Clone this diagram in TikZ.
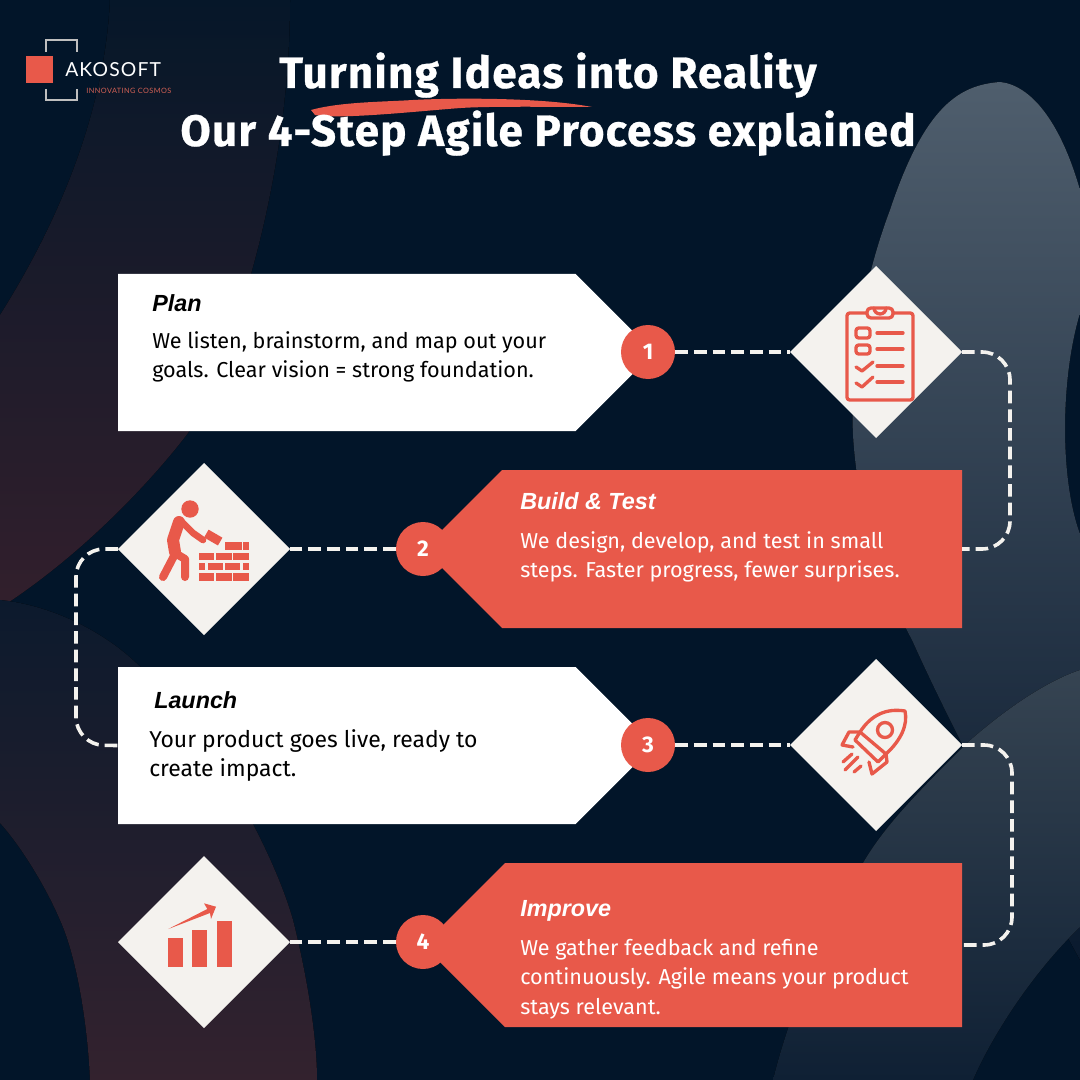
\documentclass[tikz,border=0pt]{standalone}
\usepackage{fontspec}
\setmainfont{Fira Sans}
\newfontfamily\titlefont[LetterSpace=2.8,FakeBold=0.6]{Fira Sans}
\newfontfamily\headfont{Liberation Sans}
\newfontfamily\logofont[LetterSpace=6]{Lato}
\usetikzlibrary{positioning}
\usetikzlibrary{shapes.geometric,shapes.symbols}
\definecolor{navy}{HTML}{021529}
\definecolor{coral}{HTML}{E8594A}
\definecolor{paper}{HTML}{F4F2EE}
\definecolor{blobtop}{HTML}{4F5E6D}
\definecolor{blobmid}{HTML}{283849}
\definecolor{blobend}{HTML}{0A1A2E}
\definecolor{blobtwo}{HTML}{364452}
\definecolor{blobtwomid}{HTML}{1D2C3F}
\definecolor{blobtwoend}{HTML}{0F2034}
\definecolor{plumtop}{HTML}{061729}
\definecolor{plummid}{HTML}{121A2B}
\definecolor{plumend}{HTML}{321F2C}
\definecolor{plumlow}{HTML}{0C1A2D}
\definecolor{plumlowmid}{HTML}{1C1D2D}
\definecolor{plumlowend}{HTML}{33222E}
\tikzset{
	banner/.style={shape=signal, signal from=nowhere, signal pointer angle=90, inner sep=0pt, outer sep=0pt},
	whitebox/.style={banner, fill=white, signal to=east, anchor=west, minimum width=536*0.75pt},
	redbox/.style={banner, fill=coral, signal to=west, anchor=east, minimum width=539*0.75pt},
	stepdot/.style={circle, fill=coral, text=white, minimum size=40.5pt, inner sep=0pt, font=\fontsize{17}{17}\bfseries},
	icondiamond/.style={diamond, fill=paper, aspect=1, minimum width=129pt, minimum height=129pt, inner sep=0pt, outer sep=0pt},
	headtext/.style={anchor=base west, inner sep=0pt, font=\headfont\fontsize{17.5}{17.5}\bfseries\itshape},
	bodytext/.style={anchor=north west, inner sep=0pt, align=left, font=\fontsize{16.2}{22}\selectfont},
	titletext/.style={anchor=base, text=white, inner sep=0pt, font=\titlefont\fontsize{33}{33}\bfseries},
	dashline/.style={draw=paper, line width=2.7pt, dash pattern=on 9.5pt off 4.5pt},
	iconline/.style={draw=coral, line width=2.5pt, line cap=round, line join=round},
}
\begin{document}
\begin{tikzpicture}[x=0.75pt,y=-0.75pt]
	\useasboundingbox (0,0) rectangle (1080,1080);
	\fill[navy] (0,0) rectangle (1080,1080);

	% background blobs
	\fill[top color=plumtop, middle color=plummid, bottom color=plumend] (110,0) .. controls (105,110) and (60,220) .. (0,315) -- (0,608) .. controls (90,550) and (160,470) .. (188,433) .. controls (250,320) and (290,150) .. (290,0) -- cycle;
	\fill[top color=plumlow, middle color=plumlowmid, bottom color=plumlowend] (0,600) .. controls (50,605) and (100,630) .. (133,660) .. controls (200,720) and (270,840) .. (293,920) .. controls (308,980) and (317,1040) .. (317,1080) -- (90,1080) .. controls (88,1030) and (78,960) .. (60,920) .. controls (45,885) and (20,845) .. (0,823) -- cycle;
	\fill[top color=blobtop, middle color=blobmid, bottom color=blobend] (1000,82) .. controls (960,85) and (925,105) .. (890,210) .. controls (860,290) and (850,370) .. (853,435) .. controls (858,520) and (885,590) .. (912,640) .. controls (930,680) and (945,710) .. (960,740) -- (1080,960) -- (1080,534) .. controls (1060,480) and (1060,380) .. (1080,313) -- (1080,190) .. controls (1060,120) and (1030,85) .. (1000,82) -- cycle;
	\fill[top color=blobtwo, middle color=blobtwomid, bottom color=blobtwoend] (1080,670) .. controls (1050,680) and (1010,705) .. (967,743) .. controls (920,790) and (885,825) .. (863,863) .. controls (825,930) and (790,1010) .. (773,1080) -- (973,1080) .. controls (990,1040) and (1030,975) .. (1080,927) -- cycle;

	% logo
	\fill[coral] (26,56) rectangle (53,83);
	\draw[gray!50!white, line width=1pt] (46,52) -- (46,40) -- (77,40) -- (77,52);
	\draw[gray!50!white, line width=1pt] (46,89) -- (46,100) -- (77,100) -- (77,89);
	\node[anchor=base west, inner sep=0pt, text=white, font=\logofont\fontsize{14.5}{14.5}\selectfont] (logoname) at (65,77) {AKOSOFT};
	\node[anchor=base west, inner sep=0pt, text=coral!80!gray, font=\logofont\fontsize{5.5}{5.5}\selectfont] (logotag) at (86,94) {INNOVATING COSMOS};

	% title
	\fill[coral] (311,110) .. controls (340,102) and (380,102) .. (413,100) .. controls (450,98) and (540,97) .. (592,107) .. controls (560,107) and (490,106) .. (461,108) .. controls (430,110) and (340,120) .. (315,115) -- cycle;
	\node[titletext] (titlea) at (548,88) {Turning Ideas into Reality};
	\node[titletext] (titleb) at (548,146) {Our 4-Step Agile Process explained};

	% boxes
	\node[whitebox, minimum height=157*0.75pt] (plan) at (118,352.5) {};
	\node[redbox, minimum height=158*0.75pt] (build) at (962,549) {};
	\node[whitebox, minimum height=157*0.75pt] (launch) at (118,745.5) {};
	\node[redbox, minimum height=164*0.75pt] (improve) at (962,945) {};

	\node[headtext] (plantitle) at (152,311) {Plan};
	\node[bodytext] (plantext) at (152,331) {We listen, brainstorm, and map out your\\goals. Clear vision = strong foundation.};
	\node[headtext, text=white] (buildtitle) at (520,509) {Build \& Test};
	\node[bodytext, text=white] (buildtext) at (520,531) {We design, develop, and test in small\\steps. Faster progress, fewer surprises.};
	\node[headtext] (launchtitle) at (154,708) {Launch};
	\node[bodytext, font=\fontsize{17.2}{22.2}\selectfont] (launchtext) at (149,729) {Your product goes live, ready to\\create impact.};
	\node[headtext, text=white] (improvetitle) at (520,916) {Improve};
	\node[bodytext, text=white] (improvetext) at (520,939) {We gather feedback and refine\\continuously. Agile means your product\\stays relevant.};

	% diamonds and dots
	\node[icondiamond] (planicon) at (876,352) {};
	\node[icondiamond] (buildicon) at (204,549) {};
	\node[icondiamond] (launchicon) at (876,745) {};
	\node[icondiamond] (improveicon) at (204,942) {};
	\node[stepdot] (stepa) at (648,352) {1};
	\node[stepdot] (stepb) at (423,549) {2};
	\node[stepdot] (stepc) at (648,745) {3};
	\node[stepdot] (stepd) at (423,942) {4};

	% connectors
	\draw[dashline] (stepa) -- (planicon);
	\draw[dashline] (stepb) -- (buildicon);
	\draw[dashline] (stepc) -- (launchicon);
	\draw[dashline] (stepd) -- (improveicon);
	\draw[dashline, rounded corners=21pt] (planicon.east) -- (1010,352) -- (1010,549) -- (build.east);
	\draw[dashline, rounded corners=21pt] (buildicon.west) -- (76,549) -- (76,745) -- (launch.west);
	\draw[dashline, rounded corners=21pt] (launchicon.east) -- (1012,745) -- (1012,945) -- (improve.east);

	% clipboard icon
	\begin{scope}[shift={(planicon)}]
		\draw[iconline, rounded corners=2pt] (-9,-39) -- (-29,-39) -- (-29,48) -- (37,48) -- (37,-39) -- (17,-39);
		\draw[iconline, rounded corners=3pt] (-9,-44) rectangle (17,-34);
		\draw[iconline] (-2,-44) arc (180:0:6);
		\draw[iconline, rounded corners=2pt] (-20,-24) rectangle (-6,-14);
		\draw[iconline, rounded corners=2pt] (-20,-7) rectangle (-6,2);
		\draw[iconline] (-20,15) -- (-14,19) -- (-3,10);
		\draw[iconline] (-20,31) -- (-14,35) -- (-3,25);
		\foreach \y in {-19,-3,14,30}
			\draw[iconline] (1,\y) -- (27,\y);
	\end{scope}

	% bricklayer icon
	\begin{scope}[shift={(buildicon)}]
		\fill[coral] (-14,-40) circle (8.7);
		\draw[iconline, line width=9pt] (-25,-27) -- (-31,-9) -- (-29,3);
		\draw[iconline, line width=6pt] (-29,5) -- (-41,28);
		\draw[iconline, line width=6pt] (-29,4) -- (-19,10) -- (-19,28);
		\draw[iconline, line width=5pt] (-22,-27) -- (-11,-16) -- (-1,-9);
		\fill[coral, rotate around={-30:(9,-11)}] (1,-16) rectangle (17,-7);
		\foreach \x/\w in {-5.3/15.3, 12/15.7, 29.3/15.7} {
			\fill[coral] (\x,3.7) rectangle ++(\w,7.6);
			\fill[coral] (\x,24.3) rectangle ++(\w,7.7);
		}
		\foreach \x/\w in {-5.3/6.6, 3.7/15.6, 21/15.3, 38.7/6.3}
			\fill[coral] (\x,14) rectangle ++(\w,7.3);
		\foreach \x/\w in {21/16.7, 38.7/6.3}
			\fill[coral] (\x,-6.7) rectangle ++(\w,7.7);
	\end{scope}

	% rocket icon
	\begin{scope}[shift={(launchicon)}]
		\draw[iconline] (29,-34) .. controls (10,-37) and (-5,-30) .. (-16,-13) -- (10,9) .. controls (25,-5) and (32,-20) .. (29,-34) -- cycle;
		\draw[iconline] (-16,-13) -- (-21,-5) -- (2,17) -- (10,9);
		\draw[iconline] (9,-15) circle (7.5);
		\draw[iconline] (-16,-13) -- (-27,-13) -- (-34,0) -- (-23,2);
		\draw[iconline] (10,9) -- (11,17) -- (-4,29) -- (-7,17);
		\draw[iconline] (-33,17) -- (-24,9);
		\draw[iconline] (-31,25) -- (-18,12);
		\draw[iconline] (-22,27) -- (-15,21);
	\end{scope}

	% chart icon
	\begin{scope}[shift={(improveicon)}]
		\fill[coral] (-36.3,-3.7) rectangle (-21,25.3);
		\fill[coral] (-12,-12.3) rectangle (3.3,25.3);
		\fill[coral] (12.7,-21) rectangle (28,25.3);
		\fill[coral] (-35.7,-13) -- (3.3,-33) -- (0,-38.7) -- (12,-35.3) -- (7,-23) -- (6,-29) -- cycle;
	\end{scope}
\end{tikzpicture}
\end{document}
